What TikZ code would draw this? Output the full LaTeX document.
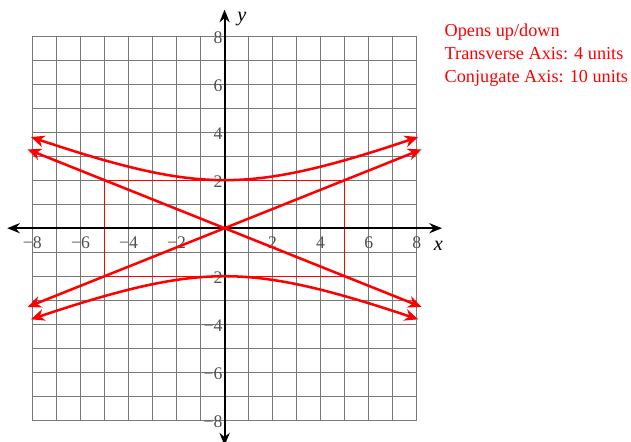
\documentclass[tikz,border=0pt]{standalone}
\usepackage{fontspec}
\setmainfont{Liberation Serif}
\usepackage{tikz}
\usetikzlibrary{arrows.meta}
\definecolor{gridgray}{RGB}{120,120,120}
\definecolor{labelgray}{RGB}{80,80,80}

\begin{document}
\begin{tikzpicture}[x=0.5cm, y=0.5cm,
        gridline/.style={gridgray, line width=0.55pt},
        axisline/.style={line width=1.2pt, {Stealth[length=7.5pt, width=6pt, inset=2.5pt]}-{Stealth[length=7.5pt, width=6pt, inset=2.5pt]}},
        ticklabel/.style={text=labelgray, font=\fontsize{10.5}{12}\selectfont, inner sep=1pt},
        curve/.style={red, line width=1.5pt, {Stealth[length=8pt, width=7pt, inset=2.5pt]}-{Stealth[length=8pt, width=7pt, inset=2.5pt]}},
        boxline/.style={red, line width=0.7pt},
        axislabel/.style={font=\fontsize{12}{14}\selectfont\itshape, inner sep=0pt},
        infotext/.style={red, font=\fontsize{10.8}{13}\selectfont, anchor=base west, inner sep=0pt}]
        \useasboundingbox (-9.35,-8.875) rectangle (16.92,9.5);
        \draw[gridline, step={(1,1)}] (-8,-8) grid (8,8);
        \draw[boxline] (-5,-2) rectangle (5,2);
        \coordinate (xleft) at (-9.05,0); \coordinate (xright) at (9.05,0);
        \coordinate (ybottom) at (0,-9.05); \coordinate (ytop) at (0,9.1);
        \draw[axisline] (xleft) -- (xright);
        \draw[axisline] (ybottom) -- (ytop);
        \foreach \i in {-8,-6,...,8} {
            \ifnum\i=0 \else
            \pgfmathtruncatemacro{\a}{abs(\i)}
            \node[ticklabel, anchor=north] (xtick\i) at (\i,-0.28) {\ifnum\i<0 −\fi\a};
            \node[ticklabel, anchor=east] (ytick\i) at (0,\i-0.07) {\ifnum\i<0 −\fi\a};
            \fi
        }
        \node[axislabel] (xlab) at (8.9,-0.72) {x};
        \node[axislabel] (ylab) at (0.72,8.72) {y};
        \draw[curve, domain=-8.06:8.06, samples=81, smooth] plot (\x, {2*sqrt(1+\x*\x/25)});
        \draw[curve, domain=-8.06:8.06, samples=81, smooth] plot (\x, {-2*sqrt(1+\x*\x/25)});
        \coordinate (asyA) at (-8.2,-3.28); \coordinate (asyB) at (8.2,3.28);
        \coordinate (asyC) at (-8.2,3.28); \coordinate (asyD) at (8.2,-3.28);
        \draw[curve] (asyA) -- (asyB);
        \draw[curve] (asyC) -- (asyD);
        \node[infotext] (opens) at (9.15,8) {Opens up/down};
        \node[infotext] (transverse) at (9.15,7.03) {Transverse Axis: 4 units};
        \node[infotext] (conjugate) at (9.15,6.05) {Conjugate Axis: 10 units};
    \end{tikzpicture}
\end{document}
